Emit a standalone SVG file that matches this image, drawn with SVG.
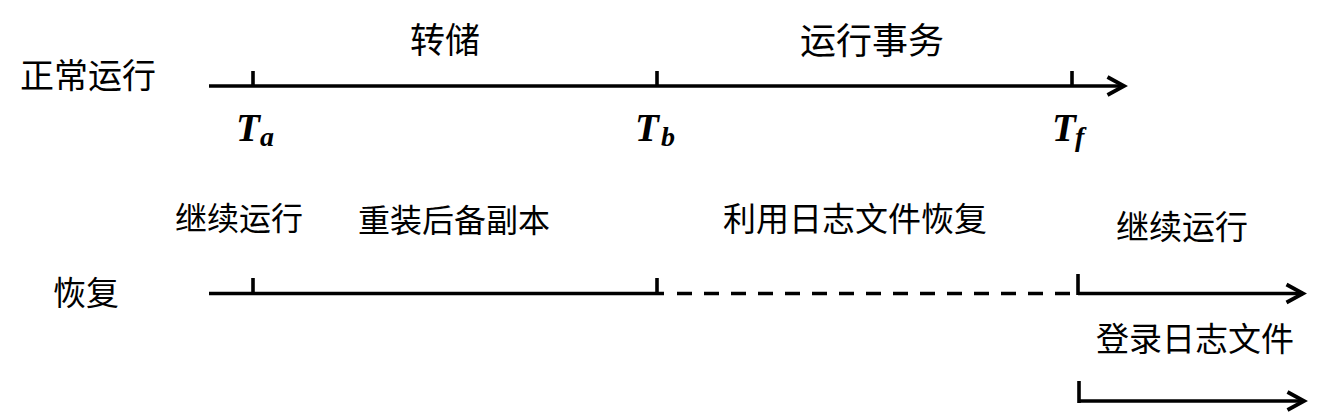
<svg xmlns="http://www.w3.org/2000/svg" width="1338" height="418" viewBox="0 0 1338 418">
  <style>
    .cn { font-family: "Noto Sans CJK SC", "Noto Sans", sans-serif; fill: #000; }
    .ln { stroke: #000; stroke-width: 3.6; fill: none; }
    .math { font-family: "Liberation Serif", "DejaVu Serif", serif; font-weight: bold; font-style: italic; fill: #000; }
  </style>
  <defs>
    <marker id="arr" viewBox="0 0 24 24" refX="20" refY="12" markerWidth="24" markerHeight="24" markerUnits="userSpaceOnUse" orient="auto">
      <path d="M3.5,3 L20,12 L3.5,21" fill="none" stroke="#000" stroke-width="3.8" stroke-linejoin="miter"/>
    </marker>
  </defs>
  <rect width="1338" height="418" fill="#fff"/>

  <g id="labels-rows">
    <text class="cn" x="20" y="88" font-size="34">正常运行</text>
    <text class="cn" x="53" y="305" font-size="33">恢复</text>
  </g>

  <g id="top-labels">
    <text class="cn" x="410" y="53" font-size="35">转储</text>
    <text class="cn" x="800" y="54" font-size="36">运行事务</text>
  </g>

  <g id="time-labels">
    <text class="math" font-size="39"><tspan x="236" y="141">T</tspan><tspan x="260" y="146" font-size="28">a</tspan></text>
    <text class="math" font-size="39"><tspan x="635" y="141">T</tspan><tspan x="661" y="146" font-size="28">b</tspan></text>
    <text class="math" font-size="39"><tspan x="1052" y="141">T</tspan><tspan x="1075" y="146" font-size="28">f</tspan></text>
  </g>

  <g id="bottom-labels">
    <text class="cn" x="175" y="230" font-size="32">继续运行</text>
    <text class="cn" x="358" y="232" font-size="32">重装后备副本</text>
    <text class="cn" x="723" y="231" font-size="33">利用日志文件恢复</text>
    <text class="cn" x="1116" y="239" font-size="33">继续运行</text>
    <text class="cn" x="1096" y="351" font-size="33">登录日志文件</text>
  </g>

  <g id="connectors">
    <!-- normal timeline -->
    <line class="ln" x1="209" y1="86" x2="1124" y2="86" marker-end="url(#arr)"/>
    <line class="ln" x1="253" y1="71" x2="253" y2="86"/>
    <line class="ln" x1="657" y1="71" x2="657" y2="86"/>
    <line class="ln" x1="1072" y1="71" x2="1072" y2="86"/>
    <!-- recovery timeline -->
    <line class="ln" x1="209" y1="293.5" x2="664" y2="293.5"/>
    <line class="ln" x1="677" y1="293.5" x2="1072" y2="293.5" stroke-dasharray="15 12"/>
    <line class="ln" x1="253" y1="278" x2="253" y2="293.5"/>
    <line class="ln" x1="657" y1="278" x2="657" y2="293.5"/>
    <line class="ln" x1="1078" y1="274" x2="1078" y2="295"/>
    <line class="ln" x1="1078" y1="293.5" x2="1303" y2="293.5" marker-end="url(#arr)"/>
    <!-- log file timeline -->
    <line class="ln" x1="1079" y1="381" x2="1079" y2="403"/>
    <line class="ln" x1="1079" y1="401" x2="1304" y2="401" marker-end="url(#arr)"/>
  </g>
</svg>
